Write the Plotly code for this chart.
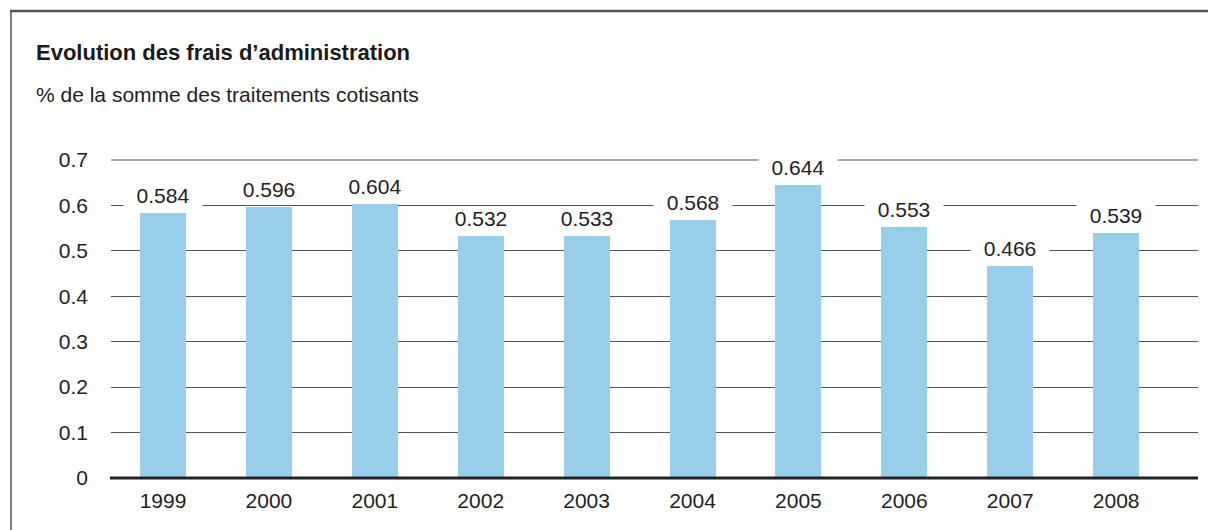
import plotly.graph_objects as go

# Frais d'administration en % de la somme des traitements cotisants
years = ["1999", "2000", "2001", "2002", "2003", "2004", "2005", "2006", "2007", "2008"]
frais = [0.584, 0.596, 0.604, 0.532, 0.533, 0.568, 0.644, 0.553, 0.466, 0.539]
y_ticks = [0, 0.1, 0.2, 0.3, 0.4, 0.5, 0.6, 0.7]
y_tick_text = ["0", "0.1", "0.2", "0.3", "0.4", "0.5", "0.6", "0.7"]

title_text = "Evolution des frais d\u2019administration"
subtitle_text = "% de la somme des traitements cotisants"

W, H = 1208, 530
ML, MR, MT, MB = 111, 10, 160, 52
PW, PH = W - ML - MR, H - MT - MB

FONT = "Liberation Sans, Arial, sans-serif"
TXT = "#222222"
BAR = "#99ceeb"
GRID = "#555555"


def px_x(p):
    return (p - ML) / PW


def px_y(p):
    return (H - MB - p) / PH


fig = go.Figure()
fig.add_trace(go.Bar(
    x=years, y=frais, width=0.434,
    marker=dict(color=BAR, line=dict(width=0)),
    hoverinfo="skip",
))

# value labels (category axis positions given by index)
annotations = []
for i, v in enumerate(frais):
    annotations.append(dict(
        x=i, y=v, xref="x", yref="y", text=f"{v:.3f}", showarrow=False,
        yanchor="bottom", yshift=5, width=78, bgcolor="white",
        borderpad=0, font=dict(family=FONT, size=21, color=TXT),
    ))

annotations.append(dict(
    x=px_x(34), y=px_y(52), xref="paper", yref="paper", text=f"<b>{title_text}</b>",
    showarrow=False, xanchor="left", yanchor="middle",
    font=dict(family=FONT, size=22, color="#1a1a1a"),
))
annotations.append(dict(
    x=px_x(34), y=px_y(95), xref="paper", yref="paper", text=subtitle_text,
    showarrow=False, xanchor="left", yanchor="middle",
    font=dict(family=FONT, size=21, color=TXT),
))

shapes = [
    # top gridline at 0.7
    dict(type="line", xref="paper", yref="paper", x0=0, x1=1.0, y0=1, y1=1,
         line=dict(color=GRID, width=1), layer="below"),
    # baseline at zero
    dict(type="line", xref="paper", yref="paper", x0=px_x(110), x1=1.0, y0=0, y1=0,
         line=dict(color="#222222", width=3), layer="above"),
    # frame lines
    dict(type="line", xref="paper", yref="paper", x0=px_x(10), x1=px_x(W + 5),
         y0=px_y(11), y1=px_y(11), line=dict(color="#555555", width=2.5)),
    dict(type="line", xref="paper", yref="paper", x0=px_x(11), x1=px_x(11),
         y0=px_y(10), y1=px_y(H + 5), line=dict(color="#555555", width=1.5)),
]

fig.update_layout(
    width=W, height=H,
    margin=dict(l=ML, r=MR, t=MT, b=MB),
    paper_bgcolor="white", plot_bgcolor="white",
    showlegend=False,
    bargap=0,
    annotations=annotations,
    shapes=shapes,
    xaxis=dict(
        type="category", range=[-0.491, 9.773],
        showgrid=False, zeroline=False, showline=False,
        ticks="",
        tickfont=dict(family=FONT, size=21, color=TXT),
        ticklabelstandoff=8,
        fixedrange=True,
    ),
    yaxis=dict(
        range=[0, 0.7], tickvals=y_ticks, ticktext=y_tick_text,
        showgrid=True, gridcolor=GRID, gridwidth=1,
        zeroline=False, showline=False, ticks="",
        tickfont=dict(family=FONT, size=21, color=TXT),
        ticklabelstandoff=22,
        fixedrange=True,
    ),
)

fig.write_html("out.html", config={"displayModeBar": False})
